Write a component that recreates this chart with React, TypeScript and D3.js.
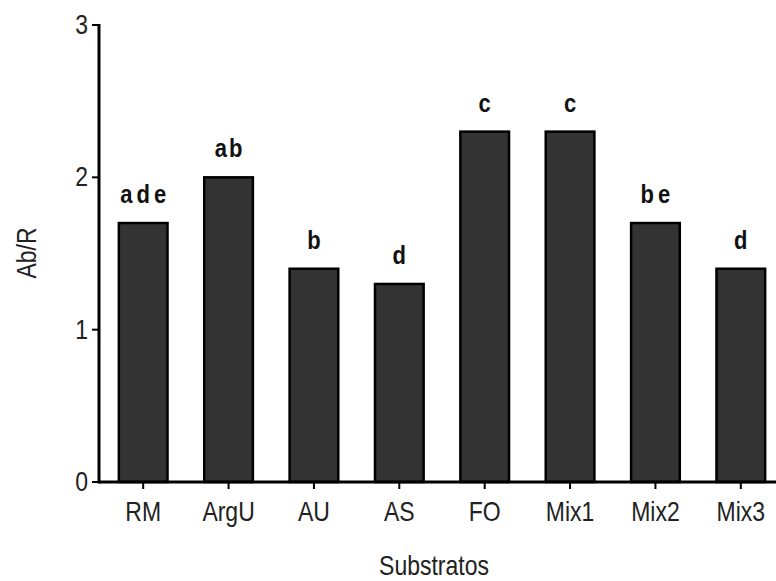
import React from "react";
import * as d3 from "d3";

const categories = ["RM", "ArgU", "AU", "AS", "FO", "Mix1", "Mix2", "Mix3"];
const values = [1.7, 2.0, 1.4, 1.3, 2.3, 2.3, 1.7, 1.4];
const letters = ["ade", "ab", "b", "d", "c", "c", "be", "d"];
const yTicks = [0, 1, 2, 3];

const font = "Arial, 'Liberation Sans', sans-serif";

function T(props: { x: number; y: number; size: number; anchor?: string; bold?: boolean; rot?: boolean; ls?: number; children: React.ReactNode }) {
  const { x, y, size, anchor = "middle", bold = false, rot = false, ls = 0 } = props;
  const tf = `translate(${x},${y})${rot ? " rotate(-90)" : ""} scale(1,1.2)`;
  return (
    <text transform={tf} textAnchor={anchor as any} fontFamily={font} fontSize={size} fontWeight={bold ? "bold" : "normal"} letterSpacing={ls} fill={bold ? "#111" : "#222"}>
      {props.children}
    </text>
  );
}

export default function App() {
  const W = 776, H = 581;
  const x = d3.scaleBand<string>().domain(categories).range([100.5, 783.5]).paddingInner(0.43).paddingOuter(0.215);
  const y = d3.scaleLinear().domain([0, 3]).range([482, 25]);
  return (
    <svg width={W} height={H} style={{ position: "absolute", left: 0, top: 0 }}>
      <rect width={W} height={H} fill="#fff" />
      {categories.map((c, i) => {
        const cx = x(c)! + x.bandwidth() / 2;
        const ls = letters[i] === "ab" ? 2 : letters[i].length > 1 ? 4 : 0;
        return (
          <g key={c}>
            <rect x={x(c)!} y={y(values[i])} width={x.bandwidth()} height={y(0) - y(values[i])} fill="#333333" stroke="#000" strokeWidth={2.5} />
            <T x={cx + ls / 2} y={y(values[i]) - 20} size={22} bold ls={ls}>{letters[i]}</T>
            <line x1={cx} x2={cx} y1={482} y2={489} stroke="#000" strokeWidth={2} />
            <T x={cx} y={521} size={23}>{c}</T>
          </g>
        );
      })}
      <line x1={99} x2={W} y1={482} y2={482} stroke="#000" strokeWidth={3} />
      <line x1={99} x2={99} y1={24} y2={483.5} stroke="#000" strokeWidth={3} />
      {yTicks.map(t => (
        <g key={t}>
          <line x1={92} x2={99} y1={y(t)} y2={y(t)} stroke="#000" strokeWidth={2} />
          <T x={88} y={y(t) + 9} size={23} anchor="end">{t}</T>
        </g>
      ))}
      <T x={36} y={253} size={23} rot>Ab/R</T>
      <T x={434} y={575} size={23}>Substratos</T>
    </svg>
  );
}
